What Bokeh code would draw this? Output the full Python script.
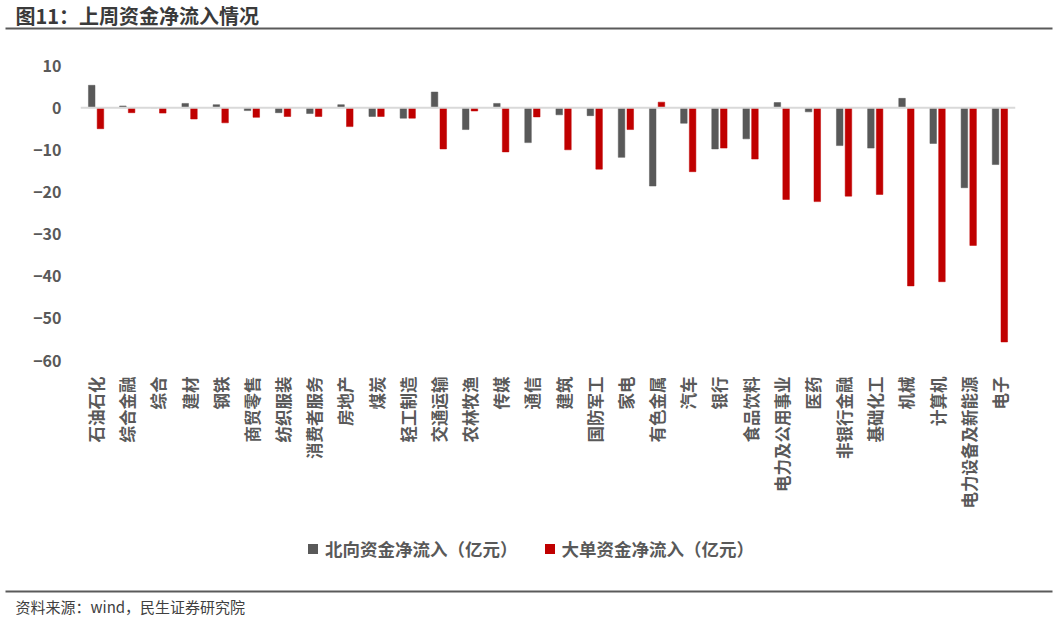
import math
from bokeh.plotting import figure
from bokeh.models import (ColumnDataSource, FactorRange, Range1d, FixedTicker, Span,
                          Legend, LegendItem)
from bokeh.transform import dodge
from bokeh.layouts import column, row
from bokeh.core.properties import value
from bokeh.embed import file_html
from bokeh.resources import INLINE

# ---------------- data ----------------
categories = ["石油石化", "综合金融", "综合", "建材", "钢铁", "商贸零售", "纺织服装", "消费者服务",
              "房地产", "煤炭", "轻工制造", "交通运输", "农林牧渔", "传媒", "通信", "建筑",
              "国防军工", "家电", "有色金属", "汽车", "银行", "食品饮料", "电力及公用事业", "医药",
              "非银行金融", "基础化工", "机械", "计算机", "电力设备及新能源", "电子"]
north_flow = [5.3, 0.4, 0.0, 1.0, 0.7, -0.7, -1.2, -1.4, 0.7, -2.1, -2.5, 3.7, -5.2, 1.0, -8.3,
              -1.7, -1.9, -11.8, -18.6, -3.7, -9.8, -7.4, 1.2, -1.0, -9.0, -9.6, 2.2, -8.5, -19.0, -13.5]
big_order_flow = [-5.0, -1.2, -1.3, -2.7, -3.6, -2.3, -2.1, -2.1, -4.5, -2.1, -2.5, -9.8, -0.8, -10.5,
                  -2.2, -10.0, -14.6, -5.2, 1.3, -15.2, -9.6, -12.2, -21.8, -22.3, -21.0, -20.6,
                  -42.3, -41.3, -32.7, -55.6]
y_ticks = [10, 0, -10, -20, -30, -40, -50, -60]
series_names = ["北向资金净流入（亿元）", "大单资金净流入（亿元）"]
title_text = "图11：上周资金净流入情况"
source_text = "资料来源：wind，民生证券研究院"

FONT = "Noto Sans CJK SC"
GRAY = "#595959"
RED = "#C00000"
W = 1058

# ---------------- header ----------------
hdr_h = 38
hdr = figure(width=W, height=hdr_h, x_range=Range1d(0, W), y_range=Range1d(hdr_h, 0),
             x_axis_type=None, y_axis_type=None, toolbar_location=None, min_border=0,
             output_backend="svg", outline_line_color=None)
hdr.grid.visible = False
hdr.text(x=[15], y=[15], text=[title_text], text_font=value(FONT), text_font_size="20px",
         text_font_style="bold", text_color="#3a3a3a", text_baseline="middle", text_align="left")
hdr.segment(x0=[5], y0=[28], x1=[1052], y1=[28], line_color="#5a5a5a", line_width=2)

# ---------------- main chart ----------------
main_h = 487
src = ColumnDataSource(dict(cat=categories, north=north_flow, big=big_order_flow))
p = figure(width=W, height=main_h, x_range=FactorRange(*categories), y_range=Range1d(-60, 10),
           toolbar_location=None, output_backend="svg",
           min_border_left=80, min_border_right=43, min_border_top=27,
           min_border_bottom=main_h - 27 - 295)
p.outline_line_color = None
p.xgrid.grid_line_color = None
p.ygrid.grid_line_color = None

r1 = p.vbar(x=dodge("cat", -0.14, range=p.x_range), top="north", bottom=0, width=0.21,
            source=src, fill_color=GRAY, line_color=GRAY, line_width=0.5)
r2 = p.vbar(x=dodge("cat", 0.14, range=p.x_range), top="big", bottom=0, width=0.21,
            source=src, fill_color=RED, line_color=RED, line_width=0.5)

p.add_layout(Span(location=0, dimension="width", line_color="#d9d9d9", line_width=2))

p.yaxis.ticker = FixedTicker(ticks=y_ticks)
p.yaxis.axis_line_color = None
p.yaxis.major_tick_line_color = None
p.yaxis.minor_tick_line_color = None
p.yaxis.major_label_standoff = 13
p.yaxis.major_label_text_font = FONT
p.yaxis.major_label_text_font_size = "16px"
p.yaxis.major_label_text_font_style = "bold"
p.yaxis.major_label_text_color = GRAY

p.xaxis.axis_line_color = None
p.xaxis.major_tick_line_color = None
p.xaxis.minor_tick_line_color = None
p.xaxis.major_label_orientation = math.pi / 2
p.xaxis.major_label_standoff = 10
p.xaxis.major_label_text_font = FONT
p.xaxis.major_label_text_font_size = "16.5px"
p.xaxis.major_label_text_font_style = "bold"
p.xaxis.major_label_text_color = GRAY

# ---------------- footer (legend + source) ----------------
ftr_h = 619 - hdr_h - main_h
ftr = figure(width=W, height=ftr_h, x_range=Range1d(0, W), y_range=Range1d(ftr_h, 0),
             x_axis_type=None, y_axis_type=None, toolbar_location=None, min_border=0,
             output_backend="svg", outline_line_color=None)
ftr.grid.visible = False
# legend swatches only (placed far outside the visible range)
lg1 = ftr.scatter(x=[-5000], y=[0], marker="square", size=10, fill_color=GRAY, line_color=None)
lg2 = ftr.scatter(x=[-5000], y=[0], marker="square", size=10, fill_color=RED, line_color=None)
legend_h = 25
legend_top = 548 - legend_h / 2 - (hdr_h + main_h)
legend = Legend(items=[LegendItem(label=series_names[0], renderers=[lg1]),
                       LegendItem(label=series_names[1], renderers=[lg2])],
                orientation="horizontal", location=(300, ftr_h - legend_top - legend_h),
                padding=0, margin=0,
                spacing=19, glyph_width=25, glyph_height=25, label_standoff=0, label_height=legend_h,
                label_text_font=FONT, label_text_font_size="17.5px", label_text_font_style="bold",
                label_text_color=GRAY, border_line_color=None, background_fill_alpha=0)
ftr.add_layout(legend)
line_y = 591 - (hdr_h + main_h)
ftr.segment(x0=[5], y0=[line_y], x1=[1052], y1=[line_y], line_color="#5a5a5a", line_width=2)
ftr.text(x=[15], y=[line_y + 15], text=[source_text], text_font=value(FONT), text_font_size="15px",
         text_color="#404040", text_baseline="middle", text_align="left")

layout = column(row(hdr), p, row(ftr), spacing=0)
open("out.html", "w").write(file_html(layout, INLINE))
